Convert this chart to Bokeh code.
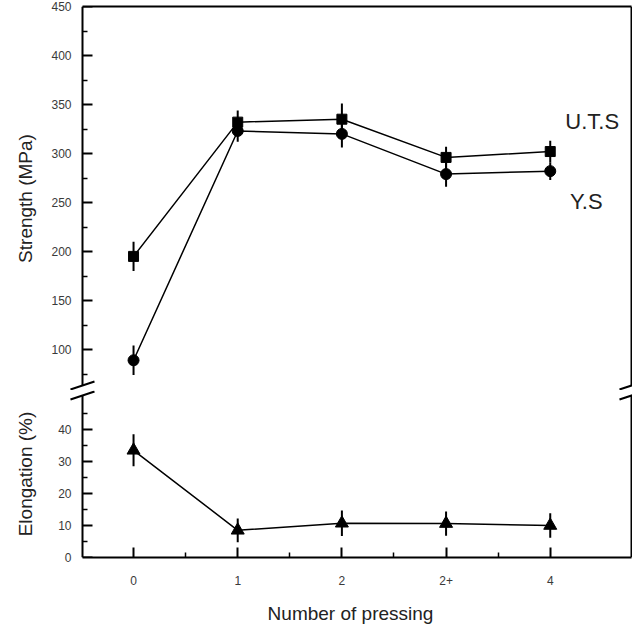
from bokeh.plotting import figure
from bokeh.layouts import column
from bokeh.models import LinearAxis, FixedTicker, Range1d, Label
from bokeh.embed import file_html
from bokeh.resources import INLINE

# ---- data -------------------------------------------------------------
pressing = ["0", "1", "2", "2+", "4"]
uts = [195, 332, 335, 296, 302]
uts_err = [15, 12, 16, 11, 11]
ys = [89, 323, 320, 279, 282]
ys_err = [15, 11, 14, 13, 9]
elong = [33.5, 8.5, 10.7, 10.6, 10.0]
elong_err = [5.0, 3.7, 4.0, 3.8, 3.8]

strength_ticks = [100, 150, 200, 250, 300, 350, 400, 450]
strength_minor = [75, 125, 175, 225, 275, 325, 375, 425]
elong_ticks = [0, 10, 20, 30, 40]
elong_minor = [5, 15, 25, 35, 45]

xs = list(range(len(pressing)))
x_minor = [i + 0.5 for i in xs[:-1]]

# ---- geometry ---------------------------------------------------------
FONT = "Liberation Sans"
X0, X1 = -0.49, 4.78          # visible left / right border of the plot box
KX = 549 / (X1 - X0)          # px per x unit
XA = X0 - 14 / KX             # frame extends a little beyond the box
XB = X1 + 1 / KX
FW = 564

KU = 0.98                     # px per MPa
U_HI = 450
FH_U = 384
U_LO = U_HI - FH_U / KU
U_BRK = U_HI - 379 / KU

KL = 3.2                      # px per %
FH_L = 167
L_LO = 0
L_HI = FH_L / KL
L_BRK = 162 / KL


def base_axis(ax):
    ax.axis_label_text_font = FONT
    ax.axis_label_text_font_size = "19px"
    ax.axis_label_text_font_style = "normal"
    ax.axis_label_text_color = "#222222"
    ax.major_label_text_font = FONT
    ax.major_label_text_font_size = "12px"
    ax.major_label_text_color = "#3a3a3a"


def no_ticks(ax):
    ax.major_tick_line_color = None
    ax.minor_tick_line_color = None
    ax.major_tick_in = 0
    ax.major_tick_out = 0
    ax.minor_tick_in = 0
    ax.minor_tick_out = 0
    ax.major_label_standoff = 0


def mark_axis(positions, length, width, line):
    # an axis that draws only inward tick marks (as minor ticks: no labels)
    ax = LinearAxis(ticker=FixedTicker(ticks=[], minor_ticks=positions))
    no_ticks(ax)
    ax.minor_tick_line_color = "black"
    ax.minor_tick_line_width = width
    ax.minor_tick_in = length
    if line:
        ax.axis_line_width = 2
        ax.axis_line_color = "black"
    else:
        ax.axis_line_color = None
    return ax


def make_fig(lo, hi, fh, top):
    p = figure(frame_width=FW, frame_height=fh, output_backend="svg",
               toolbar_location=None, x_range=Range1d(XA, XB),
               y_range=Range1d(lo, hi), x_axis_location=None,
               y_axis_location=None, min_border_left=68,
               min_border_right=0, min_border_top=top,
               min_border_bottom=0)
    p.outline_line_color = None
    p.grid.visible = False
    p.background_fill_color = "white"
    p.border_fill_color = "white"
    return p


def side_axes(p, bounds, ticks, minor, label, label_standoff):
    # box edge with inward ticks, drawn at X0 inside the (wider) frame
    for pos, length, width, line in ((ticks, 10, 2, True), (minor, 5, 1.5, False)):
        ax = mark_axis(pos, length, width, line)
        ax.fixed_location = X0
        ax.bounds = bounds
        p.add_layout(ax, "left")
    # tick labels and title in the left border
    lt = LinearAxis(axis_label=label, ticker=FixedTicker(ticks=ticks))
    base_axis(lt)
    no_ticks(lt)
    lt.axis_line_color = None
    lt.major_label_standoff = -3
    lt.axis_label_standoff = label_standoff
    p.add_layout(lt, "left")
    # right edge of the box
    ry = LinearAxis(ticker=FixedTicker(ticks=[]))
    no_ticks(ry)
    ry.axis_line_width = 2
    ry.axis_line_color = "black"
    ry.fixed_location = X1
    ry.bounds = bounds
    p.add_layout(ry, "right")


def break_marks(p, yv, ky):
    for xe in (X0, X1):
        p.segment(x0=[xe - 12 / KX], y0=[yv - 4 / ky], x1=[xe + 12 / KX],
                  y1=[yv + 4 / ky], line_color="black", line_width=2)

# ---- upper: strength --------------------------------------------------
pu = make_fig(U_LO, U_HI, FH_U, 6)
side_axes(pu, (U_BRK, U_HI), strength_ticks, strength_minor, "Strength (MPa)", 12)
tx = LinearAxis(ticker=FixedTicker(ticks=[]))
no_ticks(tx)
tx.axis_line_width = 2
tx.axis_line_color = "black"
tx.bounds = (X0, X1)
pu.add_layout(tx, "above")

pu.line(xs, uts, line_color="black", line_width=1.5)
pu.line(xs, ys, line_color="black", line_width=1.5)
pu.segment(xs, [v - e for v, e in zip(uts, uts_err)], xs,
           [v + e for v, e in zip(uts, uts_err)], line_color="black", line_width=2)
pu.segment(xs, [v - e for v, e in zip(ys, ys_err)], xs,
           [v + e for v, e in zip(ys, ys_err)], line_color="black", line_width=2)
pu.scatter(xs, uts, marker="square", size=10, color="black")
pu.scatter(xs, ys, marker="circle", size=11, color="black")

pu.add_layout(Label(x=xs[-1], y=uts[-1], text="U.T.S", x_offset=42, y_offset=30,
                    text_align="center", text_baseline="middle",
                    text_font=FONT, text_font_size="22px", text_color="#222222"))
pu.add_layout(Label(x=xs[-1], y=ys[-1], text="Y.S", x_offset=36, y_offset=-30,
                    text_align="center", text_baseline="middle",
                    text_font=FONT, text_font_size="22px", text_color="#222222"))
break_marks(pu, U_BRK, KU)

# ---- lower: elongation ------------------------------------------------
pl = make_fig(L_LO, L_HI, FH_L, 0)
side_axes(pl, (L_LO, L_BRK), elong_ticks, elong_minor, "Elongation (%)", 19)
bx = LinearAxis(axis_label="Number of pressing",
                ticker=FixedTicker(ticks=xs, minor_ticks=x_minor))
base_axis(bx)
bx.axis_line_width = 2
bx.axis_line_color = "black"
bx.major_tick_in = 10
bx.major_tick_out = 0
bx.minor_tick_in = 5
bx.minor_tick_out = 0
bx.major_tick_line_width = 2
bx.minor_tick_line_width = 1.5
bx.major_tick_line_color = "black"
bx.minor_tick_line_color = "black"
bx.bounds = (X0, X1)
bx.major_label_overrides = {i: t for i, t in zip(xs, pressing)}
bx.major_label_standoff = 18
bx.axis_label_standoff = 15
pl.add_layout(bx, "below")

pl.line(xs, elong, line_color="black", line_width=1.5)
pl.segment(xs, [v - e for v, e in zip(elong, elong_err)], xs,
           [v + e for v, e in zip(elong, elong_err)], line_color="black", line_width=2)
pl.scatter(xs, elong, marker="triangle", size=13, color="black")
break_marks(pl, L_BRK, KL)

layout = column(pu, pl, spacing=0)
open("out.html", "w").write(file_html(layout, INLINE))
